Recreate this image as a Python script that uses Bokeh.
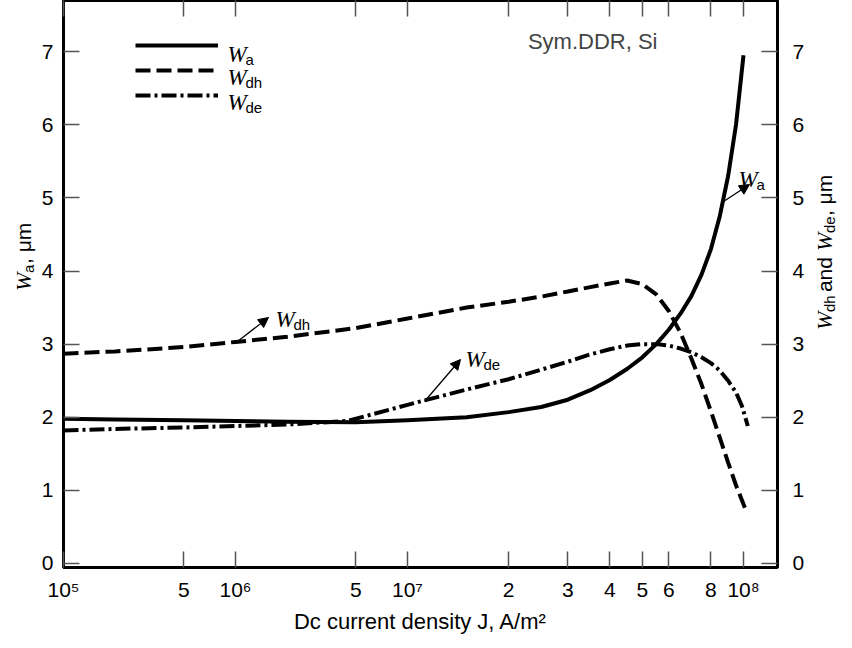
import math
from bokeh.plotting import figure
from bokeh.layouts import row
from bokeh.models import (Range1d, LinearAxis, FixedTicker, Label, Arrow, NormalHead,
                          Legend, LegendItem, ColumnDataSource)
from bokeh.embed import file_html
from bokeh.resources import INLINE

# ---------------- data ----------------
J_a = [1e5, 2e5, 5e5, 1e6, 2e6, 5e6, 1e7, 1.5e7, 2e7, 2.5e7, 3e7, 3.5e7, 4e7, 4.5e7,
       5e7, 5.5e7, 6e7, 6.5e7, 7e7, 7.5e7, 8e7, 8.5e7, 9e7, 9.5e7, 1e8]
W_a = [1.98, 1.97, 1.96, 1.95, 1.94, 1.93, 1.96, 2.00, 2.07, 2.14, 2.24, 2.37, 2.51, 2.66,
       2.82, 3.00, 3.20, 3.42, 3.66, 3.95, 4.30, 4.75, 5.30, 6.00, 6.95]

J_dh = [1e5, 2e5, 5e5, 1e6, 2e6, 5e6, 1e7, 1.5e7, 2e7, 2.5e7, 3e7, 3.5e7, 4e7, 4.5e7,
        5e7, 5.5e7, 6e7, 6.5e7, 7e7, 7.5e7, 8e7, 8.5e7, 9e7, 9.5e7, 1.01e8]
W_dh = [2.87, 2.90, 2.96, 3.03, 3.10, 3.22, 3.35, 3.50, 3.58, 3.65, 3.72, 3.78, 3.83, 3.87,
        3.82, 3.68, 3.45, 3.15, 2.80, 2.45, 2.08, 1.72, 1.38, 1.07, 0.76]

J_de = [1e5, 2e5, 5e5, 1e6, 2e6, 4.5e6, 1e7, 1.5e7, 2e7, 2.5e7, 3e7, 3.5e7, 4e7, 4.5e7,
        5e7, 5.5e7, 6e7, 6.5e7, 7e7, 7.5e7, 8e7, 8.5e7, 9e7, 9.5e7, 9.9e7, 1.03e8]
W_de = [1.82, 1.84, 1.86, 1.88, 1.90, 1.95, 2.17, 2.38, 2.52, 2.65, 2.76, 2.86, 2.93, 2.98,
        3.00, 3.00, 2.98, 2.94, 2.89, 2.82, 2.74, 2.64, 2.50, 2.34, 2.15, 1.88]

x_tick_values = [1e5, 5e5, 1e6, 5e6, 1e7, 2e7, 3e7, 4e7, 5e7, 6e7, 8e7, 1e8]
x_tick_labels = ["10\u2075", "5", "10\u2076", "5", "10\u2077", "2", "3", "4", "5", "6", "8", "10\u2078"]
y_tick_values = [0, 1, 2, 3, 4, 5, 6, 7]
x_title = "Dc current density J, A/m\u00b2"

# ---------------- broken log scale of the original axis ----------------
# decades 1e5..1e7 are drawn at one width, 1e7..1e8 at about twice that width
K_LAST = 336.0 / 172.0


def xu(J):
    L = math.log10(J)
    return L if L <= 7 else 7 + (L - 7) * K_LAST


# ---------------- layout constants (page pixels) ----------------
PAGE = 8
LEFT_W = 38                    # left strip (rotated title)
MB_L, MB_R, MB_T, MB_B = 22, 34, 0, 65
FW, FH = 714, 567
RIGHT_W = 836 - LEFT_W - (MB_L + FW + MB_R)
MAIN_H = MB_T + FH + MB_B
XMIN, XMAX = 5.0, 5.0 + FW / 172.0
YMIN, YMAX = -0.055, 7.70
FL = PAGE + LEFT_W + MB_L      # frame left on page (68)
FB = PAGE + MB_T + FH          # frame bottom on page (575)
PXU = FW / (XMAX - XMIN)
PXV = FH / (YMAX - YMIN)


def U(px):
    return XMIN + (px - FL) / PXU


def V(py):
    return YMIN + (FB - py) / PXV


FONT = "Liberation Sans"
SERIF = "Liberation Serif"

p = figure(frame_width=FW, frame_height=FH, x_range=Range1d(XMIN, XMAX),
           y_range=Range1d(YMIN, YMAX), output_backend="svg", toolbar_location=None,
           x_axis_location=None, y_axis_location=None,
           min_border_left=MB_L, min_border_right=MB_R, min_border_top=MB_T,
           min_border_bottom=MB_B)
p.title.visible = False
p.grid.visible = False
p.outline_line_color = "black"
p.outline_line_width = 3
p.background_fill_color = "white"
p.border_fill_color = "white"

xt = [round(xu(j), 9) for j in x_tick_values]
overrides = {t: lab for t, lab in zip(xt, x_tick_labels)}


def style_axis(ax, show_labels=True, standoff=10):
    ax.axis_line_color = None
    ax.major_tick_in = 16
    ax.major_tick_out = 0
    ax.major_tick_line_color = "#555555"
    ax.major_tick_line_width = 1.5
    ax.minor_tick_line_color = None
    ax.major_label_standoff = standoff
    ax.major_label_text_font = FONT
    ax.major_label_text_color = "black"
    if show_labels:
        ax.major_label_text_font_size = "21px"
    else:
        ax.major_label_text_font_size = "0px"
        ax.major_label_standoff = 0


xb = LinearAxis(ticker=FixedTicker(ticks=xt, minor_ticks=[]), major_label_overrides=overrides,
                axis_label=x_title)
style_axis(xb, True, 10)
xb.axis_label_text_font = FONT
xb.axis_label_text_font_size = "22px"
xb.axis_label_text_font_style = "normal"
xb.axis_label_text_color = "black"
xb.axis_label_standoff = 5
p.add_layout(xb, "below")
xa = LinearAxis(ticker=FixedTicker(ticks=xt, minor_ticks=[]),
                major_label_overrides={t: "" for t in xt})
style_axis(xa, False)
p.add_layout(xa, "above")
yl = LinearAxis(ticker=FixedTicker(ticks=y_tick_values, minor_ticks=[]))
style_axis(yl, True, 10)
p.add_layout(yl, "left")
yr = LinearAxis(ticker=FixedTicker(ticks=y_tick_values, minor_ticks=[]))
style_axis(yr, True, 15)
p.add_layout(yr, "right")

# ---------------- curves ----------------
src_a = ColumnDataSource(dict(x=[xu(j) for j in J_a], y=W_a))
src_dh = ColumnDataSource(dict(x=[xu(j) for j in J_dh], y=W_dh))
src_de = ColumnDataSource(dict(x=[xu(j) for j in J_de], y=W_de))
r_a = p.line("x", "y", source=src_a, line_color="black", line_width=4, line_join="round")
r_dh = p.line("x", "y", source=src_dh, line_color="black", line_width=4, line_dash="15 6")
r_de = p.line("x", "y", source=src_de, line_color="black", line_width=4, line_dash="15 4 3 4")

legend = Legend(items=[LegendItem(label=" ", renderers=[r_a]),
                       LegendItem(label=" ", renderers=[r_dh]),
                       LegendItem(label=" ", renderers=[r_de])],
                location=(72, 462), glyph_width=83, glyph_height=20, spacing=5,
                padding=0, margin=0, label_standoff=0, label_text_font_size="1px",
                border_line_color=None, background_fill_alpha=0)
p.add_layout(legend)


def wlabel(px, py, sub, size=23, subsize=15, dx=18, dy=-5):
    p.add_layout(Label(x=U(px), y=V(py), text="W", text_font=SERIF,
                       text_font_style="italic", text_font_size=f"{size}px",
                       text_baseline="alphabetic", text_align="left", text_color="black"))
    p.add_layout(Label(x=U(px), y=V(py), x_offset=dx, y_offset=dy, text=sub,
                       text_font=FONT, text_font_size=f"{subsize}px",
                       text_baseline="alphabetic", text_align="left", text_color="black"))


# legend texts
wlabel(232, 62, "a")
wlabel(232, 85, "dh")
wlabel(232, 110, "de")

# in-plot annotations
wlabel(280, 327, "dh")
wlabel(470, 367, "de")
wlabel(743, 187, "a")

for (x0, y0, x1, y1) in [(242, 349, 273, 325), (429, 409, 465, 367), (728, 209, 754, 192)]:
    p.add_layout(Arrow(end=NormalHead(size=10, fill_color="black", line_color="black"),
                       x_start=U(x0), y_start=V(y0), x_end=U(x1), y_end=V(y1),
                       line_color="black", line_width=1.3))

p.add_layout(Label(x=U(662), y=V(49), text="Sym.DDR, Si", text_font=FONT,
                   text_font_size="22px", text_align="right", text_baseline="alphabetic"))


# ---------------- blank strips that carry the rotated y titles ----------------
def strip(w, h, x0_page, y0_page):
    f = figure(width=w, height=h, x_range=Range1d(x0_page, x0_page + w),
               y_range=Range1d(0, h), output_backend="svg", toolbar_location=None,
               x_axis_location=None, y_axis_location=None,
               min_border_left=0, min_border_right=0, min_border_top=0, min_border_bottom=0)
    f.title.visible = False
    f.grid.visible = False
    f.outline_line_color = None
    f.background_fill_color = "white"
    f.border_fill_color = "white"
    f._top = y0_page
    f._h = h
    return f


left = strip(LEFT_W, MAIN_H, PAGE, PAGE)
right = strip(RIGHT_W, MAIN_H, PAGE + LEFT_W + MB_L + FW + MB_R, PAGE)


def put(f, px, py, text, font, size, style="normal", dx=0, dy=0, angle=0.0,
        baseline="alphabetic"):
    f.add_layout(Label(x=px, y=f._h - (py - f._top), x_offset=dx, y_offset=dy, text=text,
                       text_font=font, text_font_size=f"{size}px", text_font_style=style,
                       angle=angle, text_align="left", text_baseline=baseline,
                       text_color="black"))


ANG = math.pi / 2
# left: "W_a, μm"  (pieces stacked upward)
lx, ly = 31, 334
put(left, lx, ly, "W", SERIF, 22, "italic", angle=ANG, baseline="middle")
put(left, lx, ly, "a", FONT, 15, dx=5, dy=18, angle=ANG, baseline="middle")
put(left, lx, ly, ", \u03bcm", FONT, 21, dy=27, angle=ANG, baseline="middle")

# right: "W_dh and W_de, μm"
rx, ry = 829, 378
put(right, rx, ry, "W", SERIF, 22, "italic", angle=ANG, baseline="middle")
put(right, rx, ry, "dh", FONT, 15, dx=5, dy=18, angle=ANG, baseline="middle")
put(right, rx, ry, "and", FONT, 21, dy=38, angle=ANG, baseline="middle")
put(right, rx, ry, "W", SERIF, 22, "italic", dy=79, angle=ANG, baseline="middle")
put(right, rx, ry, "de", FONT, 15, dx=5, dy=97, angle=ANG, baseline="middle")
put(right, rx, ry, ", \u03bcm", FONT, 21, dy=114, angle=ANG, baseline="middle")

layout = row(left, p, right, spacing=0)
open("out.html", "w").write(file_html(layout, INLINE))
